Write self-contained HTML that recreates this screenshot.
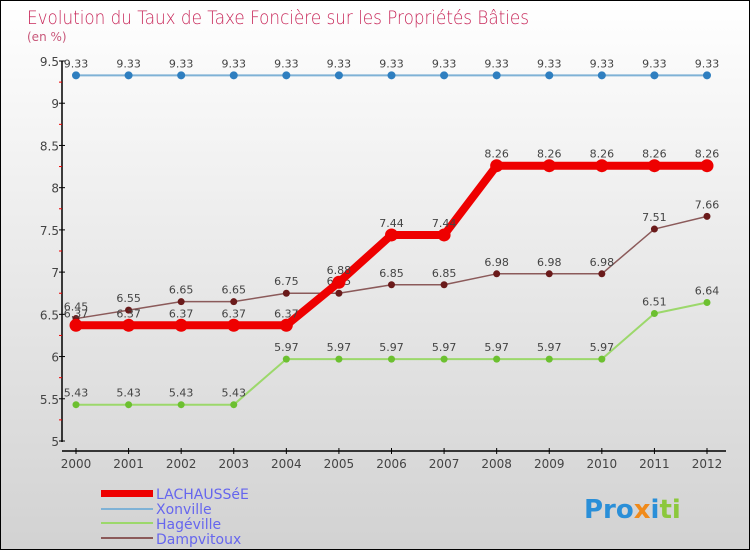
<!DOCTYPE html>
<html><head><meta charset="utf-8"><style>
body{margin:0;}
#c{width:750px;height:550px;position:relative;box-sizing:border-box;border:1px solid #000;background:linear-gradient(#ffffff,#d2d2d2);font-family:"DejaVu Sans","Liberation Sans",sans-serif;overflow:hidden}
</style></head><body>
<div id="c">
<svg id="s" width="750" height="550" style="position:absolute;left:0;top:0">
<text x="26" y="23" font-size="19" fill="#c8285a" font-family="DejaVu Sans" textLength="502" lengthAdjust="spacingAndGlyphs" font-weight="200">Evolution du Taux de Taxe Foncière sur les Propriétés Bâties</text>
<text x="26" y="40" font-size="12" fill="#c8587a">(en %)</text>
<g id="axes"></g><g id="series"></g>
<g>
<rect x="100" y="489" width="52" height="7" fill="#e00"/>
<rect x="100" y="507" width="52" height="2" fill="#7fb2d6"/>
<rect x="100" y="521" width="52" height="2" fill="#9cd86b"/>
<rect x="100" y="536" width="52" height="2" fill="#8b5a5a"/>
<text x="155" y="498" font-size="14" fill="#6666ee">LACHAUSSéE</text>
<text x="155" y="513" font-size="14" fill="#6666ee">Xonville</text>
<text x="155" y="528" font-size="14" fill="#6666ee">Hagéville</text>
<text x="155" y="543" font-size="14" fill="#6666ee">Dampvitoux</text>
</g>
<text x="583" y="517" font-size="26" font-weight="bold"><tspan fill="#2a8fd8">Pro</tspan><tspan fill="#f08a1a">x</tspan><tspan fill="#2a8fd8">i</tspan><tspan fill="#8cc83c">ti</tspan></text>
</svg>
</div>
<script>
const years=[2000,2001,2002,2003,2004,2005,2006,2007,2008,2009,2010,2011,2012];
const yTicks=[5,5.5,6,6.5,7,7.5,8,8.5,9,9.5];
const lachaussee=[6.37,6.37,6.37,6.37,6.37,6.88,7.44,7.44,8.26,8.26,8.26,8.26,8.26];
const xonville=[9.33,9.33,9.33,9.33,9.33,9.33,9.33,9.33,9.33,9.33,9.33,9.33,9.33];
const hageville=[5.43,5.43,5.43,5.43,5.97,5.97,5.97,5.97,5.97,5.97,5.97,6.51,6.64];
const dampvitoux=[6.45,6.55,6.65,6.65,6.75,6.75,6.85,6.85,6.98,6.98,6.98,7.51,7.66];
const NS="http://www.w3.org/2000/svg";
const X=i=>75+i*(706-75)/(years.length-1);
const Y=v=>440-(v-5)*(380/4.5);
function mk(t,a,p){const e=document.createElementNS(NS,t);for(const k in a)e.setAttribute(k,a[k]);p.appendChild(e);return e;}
const ax=document.getElementById('axes');
let e=mk('line',{x1:61,y1:60,x2:61,y2:441,stroke:'#000','stroke-width':1.5},ax);


e=mk('line',{x1:61,y1:450,x2:725,y2:450,stroke:'#000','stroke-width':1.5},ax);


yTicks.forEach((v,i)=>{const y=Y(v);
mk('line',{x1:58,y1:y,x2:64,y2:y,stroke:'#000'},ax);
if(i<yTicks.length-1)mk('line',{x1:58,y1:Y(v+0.25),x2:61,y2:Y(v+0.25),stroke:'#e00'},ax);
const t=mk('text',{x:58,y:y+5,'font-size':12,fill:'#444','text-anchor':'end'},ax);t.textContent=String(v);

});
years.forEach((yr,i)=>{const x=X(i);mk('line',{x1:x,y1:447,x2:x,y2:453,stroke:'#000'},ax);
const t=mk('text',{x:x,y:467,'font-size':12,fill:'#444','text-anchor':'middle'},ax);t.textContent=yr;

});
const sg=document.getElementById('series');
function series(name,vals,col,w,r,dot){
const g=mk('g',{},sg);


mk('polyline',{points:vals.map((v,i)=>X(i)+','+Y(v)).join(' '),fill:'none',stroke:col,'stroke-width':w,'stroke-linejoin':'round'},g);
vals.forEach((v,i)=>{const c=mk('circle',{cx:X(i),cy:Y(v),r:r,fill:dot},g);


const t=mk('text',{x:X(i),y:Y(v)-8,'font-size':11,fill:'#444','text-anchor':'middle'},g);t.textContent=v.toFixed(2).replace(/0$/,'');

});}
series('xonville',xonville,'#7fb2d6',2,4,'#2f7fc0');
series('hageville',hageville,'#9cd86b',2,3.5,'#6cc030');
series('dampvitoux',dampvitoux,'#8b5a5a',1.5,3.5,'#6a1a1a');
series('lachaussee',lachaussee,'#e00',8,6.5,'#e00');
</script>
</body></html>
